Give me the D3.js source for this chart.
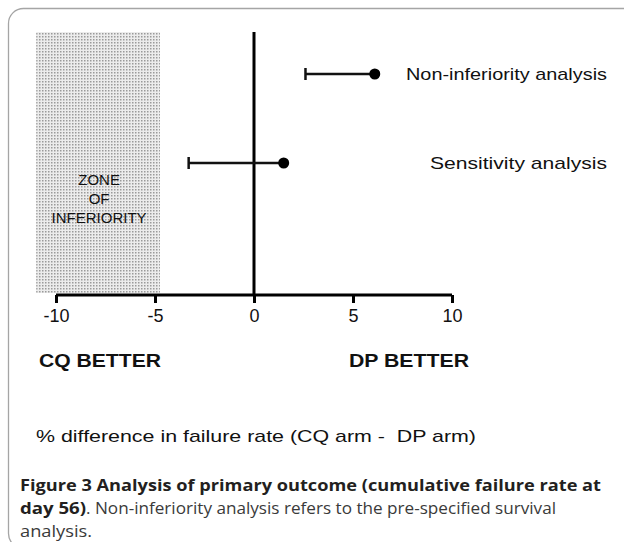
<!DOCTYPE html>
<html lang="en">
<head>
    <meta charset="UTF-8">
    <title>Analysis of primary outcome</title>
    <script src="https://d3js.org/d3.v7.min.js"></script>
    <style>
        body { margin: 0; background: #fff; }
        svg { display: block; }
        .arial { font-family: "Liberation Sans", Arial, sans-serif; }
        .caption { font-family: "Open Sans", "Noto Sans", sans-serif; }
    </style>
</head>
<body>
<div id="chart"></div>

<script>
    // data
    const analyses = ["Non-inferiority analysis", "Sensitivity analysis"];
    const lowerBound = [2.6, -3.3];
    const estimate = [6.1, 1.5];
    const tickValues = [-10, -5, 0, 5, 10];
    const zoneRange = [-11, -4.75];
    const zoneLabel = ["ZONE", "OF", "INFERIORITY"];

    const width = 624, height = 542;

    const svg = d3.select("#chart").append("svg")
        .attr("width", width)
        .attr("height", height);

    // dotted fill for the zone of inferiority
    const defs = svg.append("defs");
    const pat = defs.append("pattern")
        .attr("id", "dots")
        .attr("patternUnits", "userSpaceOnUse")
        .attr("width", 3).attr("height", 3);
    pat.append("rect").attr("width", 3).attr("height", 3).attr("fill", "#ececec");
    pat.append("rect").attr("width", 1.5).attr("height", 1.5).attr("fill", "#9a9a9a");

    // frame around figure + caption
    svg.append("rect")
        .attr("x", 8.5).attr("y", 8.5)
        .attr("width", 700).attr("height", 540)
        .attr("rx", 15)
        .attr("fill", "none")
        .attr("stroke", "#a5a5a5")
        .attr("stroke-width", 1.3);

    const x = d3.scaleLinear().domain([-10, 10]).range([56, 452]);
    const y = d3.scalePoint().domain(analyses).range([74, 163]);
    const plotTop = 32, axisY = 295;

    // shaded zone
    svg.append("rect")
        .attr("x", x(zoneRange[0]))
        .attr("y", plotTop)
        .attr("width", x(zoneRange[1]) - x(zoneRange[0]))
        .attr("height", axisY - 2 - plotTop)
        .attr("fill", "url(#dots)");

    svg.append("text")
        .attr("class", "arial")
        .attr("text-anchor", "middle")
        .attr("font-size", 15)
        .attr("fill", "#111")
        .selectAll("tspan")
        .data(zoneLabel)
        .join("tspan")
        .attr("x", x(d3.mean(zoneRange)) + 1)
        .attr("y", (d, i) => 185 + i * 19)
        .text(d => d);

    // x axis
    const axis = d3.axisBottom(x)
        .tickValues(tickValues)
        .tickSize(8)
        .tickPadding(6)
        .tickFormat(d => String(d));

    const gx = svg.append("g")
        .attr("transform", "translate(0," + axisY + ")")
        .call(axis);
    gx.select(".domain")
        .attr("d", "M" + x(-10) + ",0H" + x(10))
        .attr("stroke", "#000")
        .attr("stroke-width", 3);
    gx.selectAll(".tick line")
        .attr("stroke", "#000")
        .attr("stroke-width", 3);
    gx.selectAll(".tick text")
        .attr("font-size", 18)
        .attr("fill", "#111")
        .attr("font-family", "Liberation Sans, Arial, sans-serif");

    // zero line
    svg.append("line")
        .attr("x1", x(0)).attr("x2", x(0))
        .attr("y1", plotTop).attr("y2", axisY)
        .attr("stroke", "#000")
        .attr("stroke-width", 3);

    // intervals
    const rows = svg.selectAll(".row")
        .data(analyses)
        .join("g")
        .attr("class", "row");

    rows.append("line")
        .attr("x1", (d, i) => x(lowerBound[i]))
        .attr("x2", (d, i) => x(estimate[i]))
        .attr("y1", d => y(d)).attr("y2", d => y(d))
        .attr("stroke", "#111")
        .attr("stroke-width", 2.5);

    rows.append("line")
        .attr("x1", (d, i) => x(lowerBound[i])).attr("x2", (d, i) => x(lowerBound[i]))
        .attr("y1", d => y(d) - 6).attr("y2", d => y(d) + 6)
        .attr("stroke", "#111")
        .attr("stroke-width", 2.5);

    rows.append("circle")
        .attr("cx", (d, i) => x(estimate[i]))
        .attr("cy", d => y(d))
        .attr("r", 5.5)
        .attr("fill", "#000");

    rows.append("text")
        .attr("class", "arial")
        .attr("x", 607)
        .attr("y", d => y(d) + 6)
        .attr("text-anchor", "end")
        .attr("font-size", 17)
        .attr("fill", "#111")
        .attr("textLength", (d, i) => i === 0 ? 201 : 177)
        .attr("lengthAdjust", "spacingAndGlyphs")
        .text(d => d);

    // direction labels
    svg.append("text")
        .attr("class", "arial")
        .attr("x", 39).attr("y", 367)
        .attr("font-size", 19).attr("font-weight", "bold")
        .attr("fill", "#111")
        .attr("textLength", 122).attr("lengthAdjust", "spacingAndGlyphs")
        .text("CQ BETTER");
    svg.append("text")
        .attr("class", "arial")
        .attr("x", 349).attr("y", 367)
        .attr("font-size", 19).attr("font-weight", "bold")
        .attr("fill", "#111")
        .attr("textLength", 120).attr("lengthAdjust", "spacingAndGlyphs")
        .text("DP BETTER");

    svg.append("text")
        .attr("class", "arial")
        .attr("x", 36).attr("y", 442)
        .attr("font-size", 17)
        .attr("fill", "#111")
        .style("white-space", "pre")
        .attr("textLength", 440).attr("lengthAdjust", "spacingAndGlyphs")
        .text("% difference in failure rate (CQ arm -  DP arm)");

    // caption
    svg.append("text")
        .attr("class", "caption")
        .attr("x", 20).attr("y", 491)
        .attr("font-size", 16).attr("font-weight", "bold")
        .attr("fill", "#231f20")
        .attr("textLength", 581).attr("lengthAdjust", "spacingAndGlyphs")
        .text("Figure 3 Analysis of primary outcome (cumulative failure rate at");

    const line2 = svg.append("text")
        .attr("class", "caption")
        .attr("y", 514)
        .attr("font-size", 16)
        .attr("fill", "#3a3a3a");
    line2.append("tspan")
        .attr("x", 20)
        .attr("font-weight", "bold").attr("fill", "#231f20")
        .attr("textLength", 66).attr("lengthAdjust", "spacingAndGlyphs")
        .text("day 56)");
    line2.append("tspan")
        .attr("textLength", 470).attr("lengthAdjust", "spacingAndGlyphs")
        .text(". Non-inferiority analysis refers to the pre-specified survival");

    svg.append("text")
        .attr("class", "caption")
        .attr("x", 20).attr("y", 537)
        .attr("font-size", 16)
        .attr("fill", "#3a3a3a")
        .attr("textLength", 72).attr("lengthAdjust", "spacingAndGlyphs")
        .text("analysis.");
</script>
</body>
</html>
